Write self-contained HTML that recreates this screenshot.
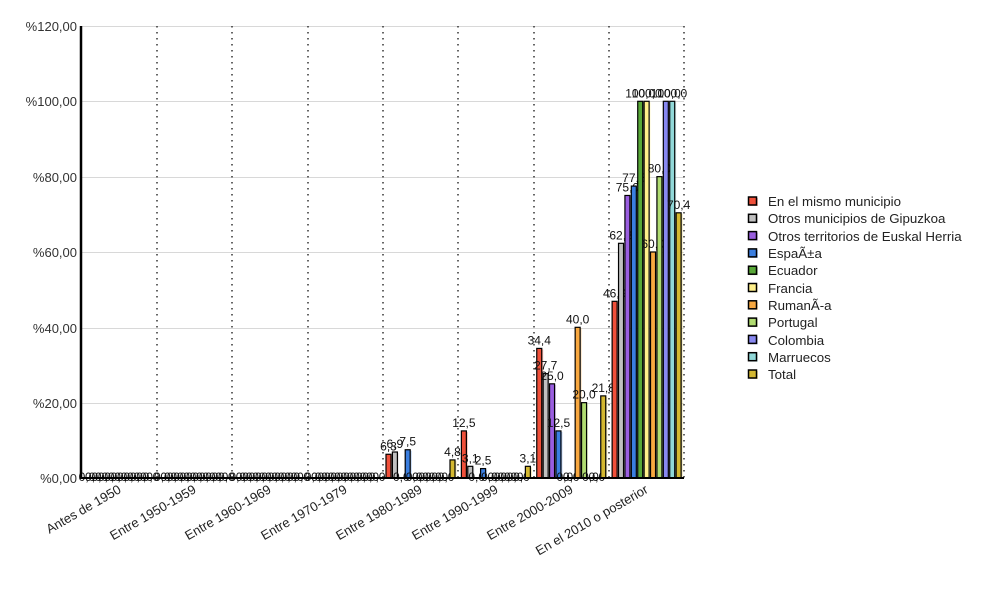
<!DOCTYPE html>
<html><head><meta charset="utf-8"><style>
body{margin:0;background:#fff}
svg{display:block;font-family:"Liberation Sans",Arial,sans-serif}
</style></head><body>
<svg id="c" width="1000" height="600" viewBox="0 0 1000 600">
<g stroke="#d8d8d8" stroke-width="1">
<line x1="81" y1="26.5" x2="684" y2="26.5"/><line x1="81" y1="101.5" x2="684" y2="101.5"/><line x1="81" y1="177.5" x2="684" y2="177.5"/><line x1="81" y1="252.5" x2="684" y2="252.5"/><line x1="81" y1="328.5" x2="684" y2="328.5"/><line x1="81" y1="403.5" x2="684" y2="403.5"/>
</g>
<g stroke="#333" stroke-width="1.5" stroke-dasharray="1.5,4.5">
<line x1="157" y1="26" x2="157" y2="478"/><line x1="232" y1="26" x2="232" y2="478"/><line x1="308" y1="26" x2="308" y2="478"/><line x1="383" y1="26" x2="383" y2="478"/><line x1="458" y1="26" x2="458" y2="478"/><line x1="534" y1="26" x2="534" y2="478"/><line x1="609" y1="26" x2="609" y2="478"/><line x1="684" y1="26" x2="684" y2="478"/>
</g>
<g font-size="13" fill="#333" text-anchor="end">
<text x="77" y="31">%120,00</text><text x="77" y="106">%100,00</text><text x="77" y="182">%80,00</text><text x="77" y="257">%60,00</text><text x="77" y="333">%40,00</text><text x="77" y="408">%20,00</text><text x="77" y="483">%0,00</text>
</g>
<g id="bars"></g>
<line x1="81" y1="478" x2="684" y2="478" stroke="#000" stroke-width="2"/>
<line x1="81" y1="26" x2="81" y2="479" stroke="#000" stroke-width="2.5"/>
<g font-size="13" fill="#222" text-anchor="end">
<text transform="translate(122,492) rotate(-30)">Antes de 1950</text>
<text transform="translate(197,492) rotate(-30)">Entre 1950-1959</text>
<text transform="translate(272,492) rotate(-30)">Entre 1960-1969</text>
<text transform="translate(348,492) rotate(-30)">Entre 1970-1979</text>
<text transform="translate(423,492) rotate(-30)">Entre 1980-1989</text>
<text transform="translate(499,492) rotate(-30)">Entre 1990-1999</text>
<text transform="translate(574,492) rotate(-30)">Entre 2000-2009</text>
<text transform="translate(649,492) rotate(-30)">En el 2010 o posterior</text>
</g>
<g font-size="13.3" fill="#222" id="leg">
<text x="768" y="206">En el mismo municipio</text>
<text x="768" y="223">Otros municipios de Gipuzkoa</text>
<text x="768" y="241">Otros territorios de Euskal Herria</text>
<text x="768" y="258">EspaÃ±a</text>
<text x="768" y="275">Ecuador</text>
<text x="768" y="293">Francia</text>
<text x="768" y="310">RumanÃ-a</text>
<text x="768" y="327">Portugal</text>
<text x="768" y="345">Colombia</text>
<text x="768" y="362">Marruecos</text>
<text x="768" y="379">Total</text>
</g>
</svg>
<script>
var cols=["#f0503a","#c0c0c0","#9a5ee0","#3a7ee0","#58a838","#fff08a","#f8a840","#b0dc70","#8888f0","#90d8d8","#d4b830"];
var data=[[0,0,0,0,0,0,0,0,0,0,0],[0,0,0,0,0,0,0,0,0,0,0],[0,0,0,0,0,0,0,0,0,0,0],[0,0,0,0,0,0,0,0,0,0,0],
[6.3,6.9,0,7.5,0,0,0,0,0,0,4.8],[12.5,3.1,0,2.5,0,0,0,0,0,0,3.1],[34.4,27.7,25.0,12.5,0,0,40.0,20.0,0,0,21.8],
[46.9,62.3,75.0,77.5,100,100,60.0,80.0,100,100,70.4]];
var g=document.getElementById("bars"),out="";
for(var i=0;i<8;i++){var gx=81+i*75.375+3;for(var s=0;s<11;s++){var v=data[i][s],x=gx+s*6.4,h=v*3.767,y=478-h;
if(v>0){out+='<rect x="'+(x+2)+'" y="'+(y+1)+'" width="5" height="'+h+'" fill="'+cols[s]+'" opacity="0.35"/>';
out+='<rect x="'+(x+0.5)+'" y="'+y+'" width="5" height="'+h+'" fill="'+cols[s]+'" stroke="#000" stroke-width="1.2"/>';}
out+='<text x="'+(x+3)+'" y="'+(y-4+(v==0?7:0))+'" font-size="12" fill="#111" text-anchor="middle">'+v.toFixed(1).replace(".",",")+'</text>';}}
g.innerHTML=out;
var lo="";for(var s=0;s<11;s++){var y=197+s*17.3;lo+='<rect x="750" y="'+(y+1)+'" width="8" height="8" fill="'+cols[s]+'" opacity="0.4"/><rect x="748.5" y="'+y+'" width="8" height="8" fill="'+cols[s]+'" stroke="#000" stroke-width="1.5"/>';}
document.getElementById("leg").insertAdjacentHTML("afterbegin",lo);
</script>
</body></html>
